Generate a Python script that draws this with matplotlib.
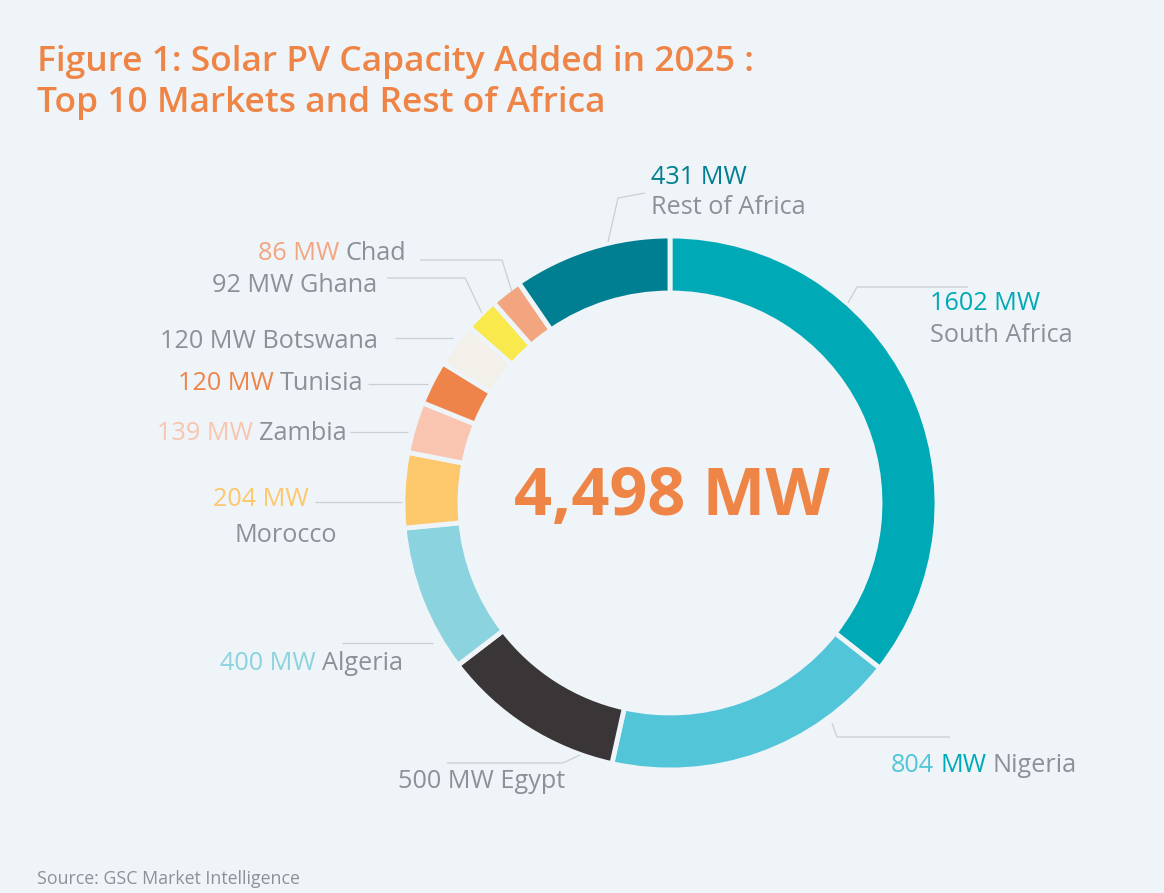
import matplotlib
matplotlib.use("Agg")
import matplotlib.pyplot as plt

# data (MW, clockwise from 12 o'clock)
countries = ["South Africa", "Nigeria", "Egypt", "Algeria", "Morocco", "Zambia",
             "Tunisia", "Botswana", "Ghana", "Chad", "Rest of Africa"]
capacity = [1602, 804, 500, 400, 204, 139, 120, 120, 92, 86, 431]
colors = ["#00A9B6", "#52C5D9", "#3A3536", "#8AD3DF", "#FDC76C", "#F9C5B0",
          "#EE8449", "#F3F0EA", "#F9E94C", "#F3A580", "#007F92"]

BG = "#EEF4F7"
GREY = "#8C9197"
LINE = "#C9CFD3"
ORANGE = "#EE8547"
W, H = 1164, 893
LBL = 18.2

plt.rcParams['font.family'] = ['Open Sans', 'DejaVu Sans']

fig = plt.figure(figsize=(W / 100, H / 100), dpi=100, facecolor=BG)
ax = fig.add_axes([0, 0, 1, 1])
ax.set_facecolor(BG)

cx, cy = 670, 503
ax.pie(capacity, colors=colors, startangle=90, counterclock=False,
       radius=267, center=(cx, H - cy),
       wedgeprops=dict(width=57, edgecolor=BG, linewidth=3.5))
ax.set_xlim(0, W)
ax.set_ylim(0, H)
ax.set_aspect('equal')
ax.axis('off')


def py(y):
    return H - y


def chain(parts, x, y, ha='left', size=LBL):
    # parts: list of (text, color); drawn on one line
    if ha == 'left':
        t = ax.text(x, py(y), parts[0][0], color=parts[0][1], fontsize=size,
                    ha='left', va='center')
        for txt, col in parts[1:]:
            t = ax.annotate(txt, xy=(1, 0), xycoords=t, xytext=(6, 0),
                            textcoords='offset pixels', color=col,
                            fontsize=size, ha='left', va='bottom')
    else:
        t = ax.text(x, py(y), parts[-1][0], color=parts[-1][1], fontsize=size,
                    ha='right', va='center')
        for txt, col in reversed(parts[:-1]):
            t = ax.annotate(txt, xy=(0, 0), xycoords=t, xytext=(-6, 0),
                            textcoords='offset pixels', color=col,
                            fontsize=size, ha='right', va='bottom')


def leader(pts):
    xs = [p[0] for p in pts]
    ys = [py(p[1]) for p in pts]
    ax.plot(xs, ys, color=LINE, lw=0.9, solid_capstyle='butt')


# leader lines
leader([(645, 193), (618, 198), (608, 242)])
leader([(968, 287), (857, 287), (848, 303)])
leader([(832, 723), (837, 737), (950, 737)])
leader([(447, 763), (563, 763), (580, 755)])
leader([(342, 643), (433, 643)])
leader([(315, 502), (402, 502)])
leader([(350, 432), (408, 432)])
leader([(368, 384), (428, 384)])
leader([(395, 338), (453, 338)])
leader([(387, 278), (465, 278), (482, 313)])
leader([(420, 260), (502, 260), (512, 292)])

# labels
chain([("431 MW", "#007F92")], 651, 178)
chain([("Rest of Africa", GREY)], 651, 208)
chain([("1602 MW", "#00A9B6")], 930, 304)
chain([("South Africa", GREY)], 930, 336)
chain([("804", "#52C5D9"), ("MW", "#00A9B6"), ("Nigeria", GREY)], 891, 765)
chain([("500 MW Egypt", GREY)], 398, 782)
chain([("400 MW", "#8AD3DF"), ("Algeria", GREY)], 220, 664)
chain([("204 MW", "#FDC76C")], 309, 500, ha='right')
chain([("Morocco", GREY)], 337, 535, ha='right')
chain([("139 MW", "#F9C5B0"), ("Zambia", GREY)], 347, 434, ha='right')
chain([("120 MW", "#EE8449"), ("Tunisia", GREY)], 363, 384, ha='right')
chain([("120 MW Botswana", GREY)], 378, 341, ha='right')
chain([("92 MW Ghana", GREY)], 377, 285, ha='right')
chain([("86 MW", "#F3A580"), ("Chad", GREY)], 406, 253, ha='right')

# centre total
ax.text(672, py(498), f"{sum(capacity):,} MW", color=ORANGE, fontsize=48,
        fontweight='bold', ha='center', va='center')

# title and source
ax.text(37, py(62), "Figure 1: Solar PV Capacity Added in 2025 :", color=ORANGE,
        fontsize=25.5, fontweight='semibold', ha='left', va='center')
ax.text(37, py(103), "Top 10 Markets and Rest of Africa", color=ORANGE,
        fontsize=25.5, fontweight='semibold', ha='left', va='center')
ax.text(37, py(879), "Source: GSC Market Intelligence", color=GREY,
        fontsize=12.8, ha='left', va='center')

fig.savefig("out.png", dpi=100, facecolor=BG)
